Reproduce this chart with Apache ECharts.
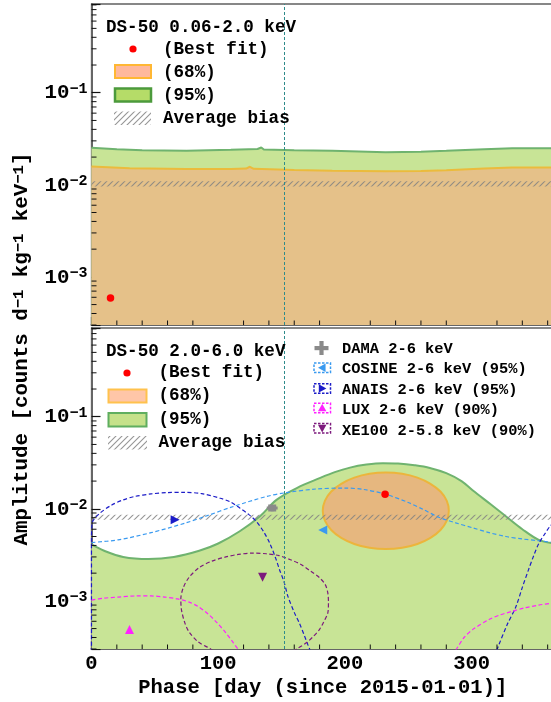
<!DOCTYPE html>
<html><head><meta charset="utf-8">
<script src="https://cdn.jsdelivr.net/npm/echarts@6/dist/echarts.min.js"></script>
<style>html,body{margin:0;padding:0;background:#fff}#c{width:551px;height:702px}</style>
</head><body><div id="c"></div>
<script>
// ---------- data ----------
const phaseMajorTicks = [0, 100, 200, 300];
const phaseMinorTicks = [20,40,60,80,120,140,160,180,220,240,260,280,320,340,360];
const yMinorMultipliers = [2,3,4,5,6,7,8,9];
const yDecades = [1e-4,1e-3,1e-2,1e-1];
const refPhase = [152];

// DS-50 0.06-2.0 keV (top panel)
const lowGreen = [[0,0.0252],[20,0.0243],[40,0.0237],[75,0.0234],[110,0.0240],[131,0.0245],[134,0.0254],[136,0.0242],[160,0.0238],[190,0.0234],[232,0.0226],[260,0.0229],[280,0.0234],[310,0.0243],[332,0.0250],[365,0.0250]];
const lowOrange = [[0,0.0158],[30,0.0151],[75,0.0148],[110,0.0148],[122,0.0150],[125,0.0157],[128,0.0149],[160,0.0145],[190,0.0142],[232,0.0140],[260,0.0141],[280,0.0144],[310,0.0150],[332,0.0154],[365,0.0154]];
const lowBest = [[15,0.00059]];
const lowBias = [[0,0.0096,365,0.0109]];

// DS-50 2.0-6.0 keV (bottom panel)
const highGreen = [[0,0.0041],[10,0.0035],[25,0.0030],[45,0.00285],[65,0.0030],[85,0.0035],[100,0.0042],[117,0.0057],[133,0.0083],[146,0.0125],[162,0.0168],[180,0.0215],[192,0.0250],[204,0.0280],[217,0.0302],[230,0.0313],[242,0.0310],[255,0.0297],[267,0.0278],[280,0.0244],[292,0.0200],[301,0.0158],[315,0.0112],[327,0.0083],[340,0.0060],[353,0.0046],[365,0.0042]];
const highEllipse = [[282,0.0095],[280.4,0.0122],[275.4,0.0154],[267.5,0.0187],[257.2,0.0218],[245.2,0.0240],[232.3,0.0248],[219.4,0.0240],[207.4,0.0218],[197.1,0.0187],[189.2,0.0154],[184.2,0.0122],[182.5,0.0095],[184.2,0.00743],[189.2,0.00589],[197.1,0.00483],[207.4,0.00415],[219.4,0.00377],[232.3,0.00365],[245.2,0.00377],[257.2,0.00415],[267.5,0.00483],[275.4,0.00589],[280.4,0.00743]];
const highBest = [[231.7,0.0144]];
const highBias = [[0,0.0076,365,0.0086]];

// other experiments: [phase, amplitude, phase error, amplitude error]
const dama = [[142.6,0.0102,4.3,0.0008]];
const cosineContour = [[0,0.0043],[21,0.0046],[47,0.0055],[74,0.0070],[90,0.0083],[112,0.0106],[138,0.0136],[154,0.0150],[177,0.0164],[200,0.0168],[215,0.0162],[232,0.0144],[250,0.0117],[262,0.0098],[274,0.0081],[288,0.0070],[301,0.0062],[314,0.0055],[327,0.0050],[340,0.0047],[353,0.0045],[365,0.0043]];
const cosineBest = [[182.5,0.0059]];
const anaisContourA = [[0,0.0002],[0,0.0045],[0.5,0.0070],[6,0.0088],[16,0.0110],[25,0.0125],[34,0.0136],[47,0.0145],[60,0.0150],[73,0.0151],[87,0.0146],[101,0.0131],[110,0.0118],[117,0.0102],[124,0.0087],[130,0.0073],[136,0.0056],[140.6,0.00425],[145,0.0030],[148.4,0.00218],[152,0.0016],[155,0.00112],[160,0.00075],[164,0.000575],[168,0.00042],[170.7,0.000335],[174,0.00026]];
const anaisContourB = [[318,0.00025],[321,0.00032],[328,0.00055],[335,0.00087],[340,0.0014],[345,0.0022],[349,0.0031],[353,0.0042],[358,0.0054],[362,0.0065],[365,0.0070]];
const anaisBest = [[66,0.0076]];
const luxContourA = [[0,0.00102],[10,0.00107],[21,0.0011],[35,0.00113],[47,0.00113],[58,0.0011],[68,0.00105],[77,0.00097],[84,0.00087],[92,0.00072],[99,0.00058],[106,0.00045],[112,0.00035],[118,0.00027]];
const luxContourB = [[284,0.00026],[288,0.0003],[294,0.0004],[301,0.00049],[314,0.00063],[322,0.0007],[332,0.00077],[342,0.00084],[353,0.0009],[365,0.00095]];
const luxBest = [[30,0.00049]];
const xe100Contour = [[100,0.00026],[94,0.00030],[84,0.00036],[77,0.00046],[73.6,0.00058],[71,0.0008],[70.5,0.00105],[72.5,0.0014],[77,0.0018],[85,0.0023],[95,0.0027],[106,0.0030],[116,0.0032],[127,0.0033],[138,0.00325],[148,0.0031],[157,0.0028],[165,0.0025],[173,0.0021],[180,0.00178],[184.5,0.0015],[186.5,0.00122],[187,0.00095],[186.5,0.00074],[183.5,0.0006],[180,0.00049],[175,0.00041],[169.5,0.00035],[162,0.00030],[155,0.00026]];
const xe100Best = [[135,0.0018]];

// ---------- styling ----------
const FONT = "'Liberation Mono','DejaVu Sans Mono',monospace";
const YMIN = 3e-4, YMAX = 0.92, XMAX = 365;
const C = {
  green:'#c8e496', greenLine:'#6fb36f', orange:'#e5c189', orangeLine:'#ebbb3c',
  ell:'#e6b77f', ellLine:'#ecb53c', red:'#ff0000',
  cosine:'#3a9af0', anais:'#1c1cc8', lux:'#ff22ff', xe:'#7d1a7d', dama:'#8a8a8a', vline:'#2e8b8b'
};
function makeHatch(){
  const c=document.createElement('canvas'); c.width=6; c.height=6;
  const g=c.getContext('2d'); g.strokeStyle='rgba(130,130,130,0.85)'; g.lineWidth=1.1;
  g.beginPath(); g.moveTo(0,6); g.lineTo(6,0); g.moveTo(-1,1); g.lineTo(1,-1); g.moveTo(5,7); g.lineTo(7,5); g.stroke();
  return c;
}
const hatchFill = {image: makeHatch(), repeat:'repeat'};
const yMinorTicks = [];
yDecades.forEach(d => yMinorMultipliers.forEach(m => { const v=m*d; if (v>YMIN*0.999 && v<YMAX) yMinorTicks.push(v); }));

function powLabel(v){
  const e=Math.log10(v), r=Math.round(e);
  if (Math.abs(e-r)>1e-6) return '';
  return '{b|10}{s|' + (r<0?'\u2212'+(-r):r) + '}';
}
function xAxisCfg(gi, showLabel){
  return {type:'value', gridIndex:gi, min:0, max:XMAX, interval:100,
    axisLine:{show:true, onZero:false, lineStyle:{color:'#666', width:2}},
    axisTick:{show:true, inside:true, length:8, lineStyle:{color:'#111', width:1.2}},
    minorTick:{show:false}, splitLine:{show:false},
    axisLabel:{show:showLabel, margin:4, fontFamily:FONT, fontWeight:'bold', fontSize:20.5, color:'#000',
      formatter:v => (phaseMajorTicks.indexOf(v)>=0 ? String(v) : '')},
    name: showLabel ? 'Phase [day (since 2015-01-01)]' : '', nameLocation:'middle', nameGap:28,
    nameTextStyle:{fontFamily:FONT, fontWeight:'bold', fontSize:20.5, color:'#000'}
  };
}
function yAxisCfg(gi){
  return {type:'log', logBase:10, gridIndex:gi, min:YMIN, max:YMAX,
    axisLine:{show:true, lineStyle:{color:'#666', width:2}},
    axisTick:{show:true, inside:true, length:9, lineStyle:{color:'#111', width:1.2}},
    minorTick:{show:false}, splitLine:{show:false},
    axisLabel:{margin:4, formatter:powLabel, color:'#000',
      rich:{b:{fontFamily:FONT, fontWeight:'bold', fontSize:20.8, color:'#000', lineHeight:22, verticalAlign:'bottom'},
            s:{fontFamily:FONT, fontWeight:'bold', fontSize:15, color:'#000', lineHeight:11, verticalAlign:'top'}}}
  };
}
function areaSeries(gi, data, line, fill, z){
  return {type:'line', xAxisIndex:gi, yAxisIndex:gi, data, symbol:'none', smooth:false, z,
    lineStyle:{color:line, width:2}, areaStyle:{color:fill, opacity:1, origin:'start'}, silent:true};
}
function hatchSeries(gi, data){
  return {type:'custom', xAxisIndex:gi, yAxisIndex:gi, data, z:3, silent:true, clip:true,
    encode:{x:[0,2], y:[1,3]},
    renderItem:(p,api)=>{
      const a=api.coord([api.value(0),api.value(3)]), b=api.coord([api.value(2),api.value(1)]);
      return {type:'rect', shape:{x:a[0], y:a[1], width:b[0]-a[0], height:b[1]-a[1]}, style:{fill:hatchFill}};
    }};
}
function contour(data, color){
  return {type:'line', xAxisIndex:1, yAxisIndex:1, data, symbol:'none', smooth:0.3, z:4, silent:true,
    lineStyle:{color, width:1.2, type:[4,2.5]}};
}
function marker(gi, data, color, rot, size, sym){
  return {type:'scatter', xAxisIndex:gi, yAxisIndex:gi, data, symbol:sym||'triangle', symbolRotate:rot||0,
    symbolSize:size||9, itemStyle:{color, opacity:1}, z:6, silent:true};
}
function minorY(gi){
  return {type:'custom', xAxisIndex:gi, yAxisIndex:gi, data:yMinorTicks.map(v=>[0,v]), z:8, silent:true, clip:false,
    renderItem:(p,api)=>{const pt=api.coord([0,api.value(1)]);
      return {type:'line', shape:{x1:pt[0], y1:pt[1], x2:pt[0]+5, y2:pt[1]}, style:{stroke:'#111', lineWidth:1}};}};
}
function minorX(gi){
  return {type:'custom', xAxisIndex:gi, yAxisIndex:gi, data:phaseMinorTicks.map(d=>[d,YMIN]), z:8, silent:true, clip:false,
    renderItem:(p,api)=>{const pt=api.coord([api.value(0),YMIN]);
      return {type:'line', shape:{x1:pt[0], y1:pt[1], x2:pt[0], y2:pt[1]-4.5}, style:{stroke:'#111', lineWidth:1}};}};
}
function vline(){
  return {symbol:'none', silent:true, label:{show:false}, lineStyle:{type:[3,2], color:C.vline, width:1},
    data:[{xAxis:refPhase[0]}], animation:false};
}

// ---------- legends (graphic) ----------
function txt(x,y,t,fs){return {type:'text', x, y, z:100, style:{text:t, fontFamily:FONT, fontWeight:'bold', fontSize:fs,
  fill:'#000', align:'left', verticalAlign:'middle', textAlign:'left', textVerticalAlign:'middle'}};}
function box(x,y,w,h,fill,stroke,lw,dash){return {type:'rect', z:100, shape:{x,y,width:w,height:h},
  style:{fill, stroke:stroke||null, lineWidth:lw||0, lineDash:dash||null}};}
function tri(cx,cy,dir,color){
  const s=4.2; let pts;
  if(dir==='left') pts=[[cx-s,cy],[cx+s*0.8,cy-s],[cx+s*0.8,cy+s]];
  else if(dir==='right') pts=[[cx+s,cy],[cx-s*0.8,cy-s],[cx-s*0.8,cy+s]];
  else if(dir==='up') pts=[[cx,cy-s],[cx-s,cy+s*0.8],[cx+s,cy+s*0.8]];
  else pts=[[cx,cy+s],[cx-s,cy-s*0.8],[cx+s,cy-s*0.8]];
  return {type:'polygon', z:101, shape:{points:pts}, style:{fill:color}};
}
const LF=17.6, RF=15.4;
const graphics = [
  txt(106,27.5,'DS-50 0.06-2.0 keV',LF),
  {type:'circle', z:100, shape:{cx:133, cy:49, r:3.6}, style:{fill:C.red}},
  txt(163,50,'(Best fit)',LF),
  box(115,65,36,13,'#ffb89c','#ffb733',2),
  txt(163,72.5,'(68%)',LF),
  box(115,88.5,36,13,'#b5dc68','#4c9a3c',2.5),
  txt(163,96,'(95%)',LF),
  box(114,111.5,37,13.5,hatchFill),
  txt(163,119,'Average bias',LF),

  txt(106,351.5,'DS-50 2.0-6.0 keV',LF),
  {type:'circle', z:100, shape:{cx:127, cy:373, r:3.6}, style:{fill:C.red}},
  txt(158.5,373,'(Best fit)',LF),
  box(108.5,389.5,38,13,'#ffc6a8','#ffc24d',2),
  txt(158.5,396,'(68%)',LF),
  box(108.5,413,38,13.5,'#c5e18a','#5fae5f',2),
  txt(158.5,420,'(95%)',LF),
  box(108,436,39,13.5,hatchFill),
  txt(158.5,443,'Average bias',LF),

  box(314.5,346,14,4.2,C.dama), box(319.4,341,4.2,14,C.dama),
  txt(342,349.5,'DAMA 2-6 keV',RF),
  box(314,363,16.5,9.5,'#fff',C.cosine,1.5,[2.5,1.5]), tri(322.2,367.7,'left',C.cosine),
  txt(342,369.5,'COSINE 2-6 keV (95%)',RF),
  box(314,383.7,16.5,9.5,'#fff',C.anais,1.5,[2.5,1.5]), tri(322.2,388.4,'right',C.anais),
  txt(342,390,'ANAIS 2-6 keV (95%)',RF),
  box(314,403.2,16.5,9.5,'#fff',C.lux,1.5,[2.5,1.5]), tri(322.2,407.9,'up',C.lux),
  txt(342,410.5,'LUX 2-6 keV (90%)',RF),
  box(314,423.5,16.5,9.5,'#fff',C.xe,1.5,[2.5,1.5]), tri(322.2,428.2,'down',C.xe),
  txt(342,431,'XE100 2-5.8 keV (90%)',RF),

  {type:'text', x:22, y:349, rotation:Math.PI/2, z:100, style:{
    text:'Amplitude [counts d{s|\u22121} kg{s|\u22121} keV{s|\u22121}]',
    fontFamily:FONT, fontWeight:'bold', fontSize:20.8, fill:'#000',
    align:'center', verticalAlign:'middle', textAlign:'center', textVerticalAlign:'middle',
    rich:{s:{fontFamily:FONT, fontWeight:'bold', fontSize:15.5, fill:'#000', color:'#000', lineHeight:11, verticalAlign:'top'}}}}
];

const option = {
  animation:false,
  backgroundColor:'#fff',
  grid:[
    {left:91.5, top:4, width:462.5, height:321, show:true, borderColor:'#111', borderWidth:1.2, backgroundColor:'transparent', containLabel:false, outerBoundsMode:'none'},
    {left:91.5, top:328, width:462.5, height:321, show:true, borderColor:'#111', borderWidth:1.2, backgroundColor:'transparent', containLabel:false, outerBoundsMode:'none'}
  ],
  xAxis:[xAxisCfg(0,false), xAxisCfg(1,true)],
  yAxis:[yAxisCfg(0), yAxisCfg(1)],
  graphic:{elements:graphics},
  series:[
    areaSeries(0, lowGreen, C.greenLine, C.green, 1),
    areaSeries(0, lowOrange, C.orangeLine, C.orange, 2),
    hatchSeries(0, lowBias),
    Object.assign(marker(0, lowBest, C.red, 0, 7.5, 'circle'), {markLine:vline()}),
    minorY(0), minorX(0),

    Object.assign(areaSeries(1, highGreen, C.greenLine, C.green, 1), {smooth:0.35}),
    {type:'custom', xAxisIndex:1, yAxisIndex:1, data:highEllipse, z:2, silent:true, clip:true,
      renderItem:(p,api)=>{
        if(p.dataIndex!==0) return null;
        const pts=highEllipse.map(q=>api.coord(q));
        return {type:'polygon', shape:{points:pts, smooth:0.4}, style:{fill:C.ell, stroke:C.ellLine, lineWidth:2}};
      }},
    hatchSeries(1, highBias),
    contour(cosineContour, C.cosine),
    contour(anaisContourA, C.anais),
    contour(anaisContourB, C.anais),
    contour(luxContourA, C.lux),
    contour(luxContourB, C.lux),
    contour(xe100Contour, C.xe),
    marker(1, cosineBest, C.cosine, 90, 9),
    marker(1, anaisBest, C.anais, -90, 9),
    marker(1, luxBest, C.lux, 0, 9),
    marker(1, xe100Best, C.xe, 180, 9),
    Object.assign(marker(1, highBest, C.red, 0, 7.5, 'circle'), {markLine:vline()}),
    {type:'custom', xAxisIndex:1, yAxisIndex:1, data:dama, z:6, silent:true,
      renderItem:(p,api)=>{
        const x=api.value(0), y=api.value(1), xe=api.value(2), ye=api.value(3);
        const c=api.coord([x,y]), l=api.coord([x-xe,y]), r=api.coord([x+xe,y]), lo=api.coord([x,y-ye]), hi=api.coord([x,y+ye]);
        const st={stroke:C.dama, lineWidth:3};
        return {type:'group', children:[
          {type:'line', shape:{x1:l[0],y1:l[1],x2:r[0],y2:r[1]}, style:st},
          {type:'line', shape:{x1:lo[0],y1:lo[1],x2:hi[0],y2:hi[1]}, style:st},
          {type:'rect', shape:{x:c[0]-4,y:c[1]-3.5,width:8,height:7}, style:{fill:C.dama}}
        ]};
      }},
    minorY(1), minorX(1)
  ]
};
const chart = echarts.init(document.getElementById('c'), null, {renderer:'canvas'});
chart.setOption(option);
</script>
</body></html>
